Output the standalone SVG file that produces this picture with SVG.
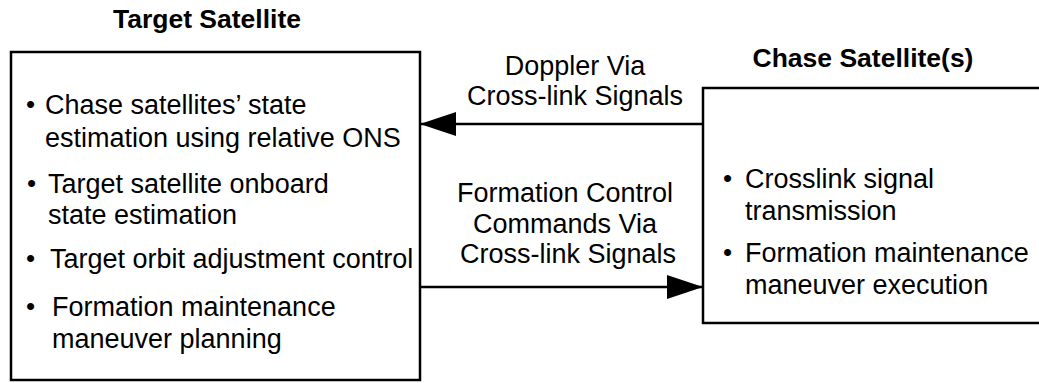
<svg xmlns="http://www.w3.org/2000/svg" width="1039" height="383" viewBox="0 0 1039 383">
<style>
text{font-family:"Liberation Sans",Arial,sans-serif;font-size:27px;fill:#000}
.t{font-weight:bold;text-anchor:middle;font-size:26.5px}
.m{text-anchor:middle}
.b{font-size:26px}
.box{fill:#fff;stroke:#000;stroke-width:2.5}
.ln{stroke:#000;stroke-width:2.5;fill:none}
</style>
<defs>
<marker id="ah" viewBox="0 0 36 24" refX="36" refY="12" markerWidth="36" markerHeight="24" markerUnits="userSpaceOnUse" orient="auto">
<path d="M0,0 L36,12 L0,24 Z" fill="#000"/>
</marker>
</defs>
<g id="target">
<text class="t" x="207" y="28">Target Satellite</text>
<rect class="box" x="11" y="52" width="409" height="328"/>
<text class="b" x="26" y="113">•</text>
<text x="45" y="114">Chase satellites’ state</text>
<text x="45" y="147">estimation using relative ONS</text>
<text class="b" x="27" y="192">•</text>
<text x="48" y="193">Target satellite onboard</text>
<text x="48" y="224">state estimation</text>
<text class="b" x="26" y="267">•</text>
<text x="50" y="268">Target orbit adjustment control</text>
<text class="b" x="26" y="315">•</text>
<text x="52" y="316">Formation maintenance</text>
<text x="52" y="348">maneuver planning</text>
</g>
<g id="chase">
<text class="t" x="863" y="67">Chase Satellite(s)</text>
<rect class="box" x="703" y="88" width="345" height="235"/>
<text class="b" x="723" y="187">•</text>
<text x="745" y="188">Crosslink signal</text>
<text x="745" y="220">transmission</text>
<text class="b" x="723" y="261">•</text>
<text x="745" y="262">Formation maintenance</text>
<text x="745" y="294">maneuver execution</text>
</g>
<g id="connectors">
<line class="ln" x1="703" y1="124" x2="420" y2="124" marker-end="url(#ah)"/>
<line class="ln" x1="420" y1="287" x2="703" y2="287" marker-end="url(#ah)"/>
<text class="m" x="575" y="75">Doppler Via</text>
<text class="m" x="575" y="105">Cross-link Signals</text>
<text class="m" x="565" y="202">Formation Control</text>
<text class="m" x="565" y="233">Commands Via</text>
<text class="m" x="568" y="263">Cross-link Signals</text>
</g>
</svg>
